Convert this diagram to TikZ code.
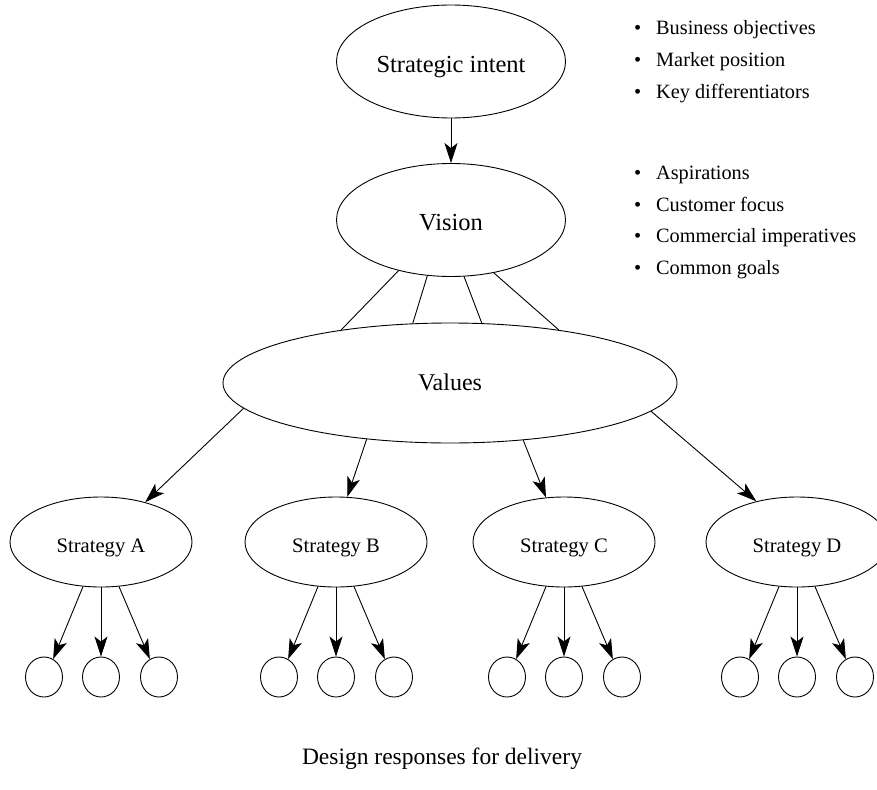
\documentclass[tikz,border=0pt]{standalone}
\usepackage{fontspec}
\setmainfont{Liberation Serif}
\usetikzlibrary{shapes.geometric,arrows.meta}
\begin{document}
\begin{tikzpicture}[x=1pt,y=-1pt,
  oval/.style={draw, ellipse, line width=0.9pt, inner sep=0pt, text depth=0pt},
  big/.style={oval, minimum width=229pt, minimum height=113pt, font=\fontsize{24.5}{29}\selectfont},
  wide/.style={oval, minimum width=454pt, minimum height=120pt, font=\fontsize{24}{29}\selectfont},
  strat/.style={oval, minimum width=182pt, minimum height=90pt, text height=21pt, font=\fontsize{20.6}{25}\selectfont},
  leaf/.style={oval, minimum width=37pt, minimum height=40pt},
  arr/.style={line width=0.9pt, -{Stealth[length=20pt,width=13pt,inset=5pt]}},
  con/.style={line width=0.9pt},
  item/.style={anchor=base west, inner sep=0pt, font=\fontsize{20.3}{24}\selectfont},
]
\useasboundingbox (0,0) rectangle (877,789);

\node[big, text height=22pt] (si) at (451,61.5) {Strategic intent};
\node[big, text height=20pt] (vi) at (451,220) {Vision};
\node[wide, text height=15pt] (va) at (450,383) {Values};

\foreach \n/\x in {A/101,B/336,C/564,D/797} {
  \node[strat] (s\n) at (\x,542) {Strategy \n};
  \foreach \i/\dx in {1/-57,2/0,3/58} {
    \node[leaf] (l\n\i) at (\x+\dx,677) {};
  }
  \draw[arr] (s\n.248) -- (l\n1.63);
  \draw[arr] (s\n.south) -- (l\n2.north);
  \draw[arr] (s\n.292) -- (l\n3.117);
}

\draw[arr] (si) -- (vi);

\draw[con] (vi.224.5) -- (va.154.9);
\draw[con] (vi.247.6) -- (va.122.4);
\draw[con] (vi.283.6) -- (va.62.8);
\draw[con] (vi.309.8) -- (va.26.4);

\draw[arr] (va.187.3) -- (sA.42);
\draw[arr] (va.214.8) -- (sB.76.6);
\draw[arr] (va.322.8) -- (sC.112.4);
\draw[arr] (va.352.7) -- (sD.135.7);

\foreach \t/\y [count=\k] in {Business objectives/35, Market position/67, Key differentiators/99, Aspirations/179, Customer focus/211, Commercial imperatives/242, Common goals/274} {
  \node[item] (b\k) at (656,\y) {\llap{\textbullet\hspace{15pt}}\t};
}

\node[anchor=base, inner sep=0pt, font=\fontsize{23.5}{28}\selectfont] (cap) at (442,764) {Design responses for delivery};
\end{tikzpicture}
\end{document}
